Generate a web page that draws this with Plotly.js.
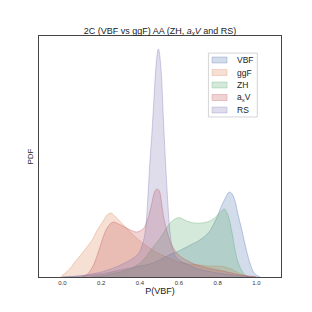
<!DOCTYPE html>
<html>
<head>
<meta charset="utf-8">
<script src="https://cdn.plot.ly/plotly-3.0.1.min.js"></script>
<style>html,body{margin:0;padding:0;background:#fff;}#chart{width:312px;height:312px;}</style>
</head>
<body>
<div id="chart"></div>
<script>
// Estimated density curves (arbitrary PDF units)
const vbfX = [0.0,0.1,0.2,0.3,0.4,0.45,0.5,0.55,0.6,0.65,0.7,0.73,0.76,0.78,0.80,0.82,0.84,0.86,0.875,0.89,0.905,0.925,0.94,0.955,0.97,0.985,1.0,1.02];
const vbfY = [0,1,3,7,11,13,17,22,26,31,36,40,46,53,61,71,79,85,83,76,63,47,34,22,12,5,2,0];

const ggfX = [-0.01,0.02,0.05,0.06,0.09,0.11,0.13,0.15,0.18,0.21,0.23,0.25,0.27,0.30,0.33,0.36,0.40,0.45,0.50,0.55,0.60,0.65,0.70,0.75,0.80,0.84,0.88,0.92,0.96,1.0];
const ggfY = [0,5,11,14,21,26,31,36,47,56,62,64,61,55,49,43,36,29,23,19,15,13,12,11,11,10,7,3,1,0];

const zhX = [0.15,0.2,0.25,0.3,0.35,0.40,0.43,0.46,0.50,0.53,0.56,0.59,0.61,0.64,0.68,0.72,0.76,0.79,0.815,0.835,0.855,0.875,0.89,0.905,0.92,0.94,0.96];
const zhY = [0,1,3,5,8,14,20,28,38,47,55,59,59,56,54,54,56,60,65,68,61,44,27,15,8,2,0];

const axvX = [0.10,0.13,0.16,0.19,0.21,0.23,0.26,0.29,0.32,0.35,0.38,0.40,0.42,0.44,0.46,0.47,0.48,0.49,0.50,0.52,0.54,0.56,0.59,0.62,0.68,0.75,0.85,0.92,1.0];
const axvY = [0,3,12,28,40,49,55,53,50,47,45,46,49,58,73,82,87,88,86,62,45,33,24,19,13,9,5,2,0];

const rsX = [0.0,0.05,0.1,0.15,0.2,0.25,0.3,0.35,0.38,0.40,0.42,0.43,0.44,0.45,0.46,0.47,0.48,0.49,0.495,0.50,0.51,0.52,0.53,0.54,0.55,0.56,0.58,0.6,0.65,0.7,0.8,0.9,1.0];
const rsY = [0,0.5,1.5,3,5,8,12,17,21,26,38,50,78,112,140,172,205,225,228,224,203,160,120,85,55,36,22,17,12,8,4,1.5,0];

const seriesNames = ['VBF','ggF','ZH','a<sub>x</sub>V','RS'];
const tickVals = [0.0,0.2,0.4,0.6,0.8,1.0];
const tickText = ['0.0','0.2','0.4','0.6','0.8','1.0'];

const colors = [[76,114,176],[221,132,82],[85,168,104],[196,78,82],[129,114,179]];
const xs = [vbfX, ggfX, zhX, axvX, rsX];
const ys = [vbfY, ggfY, zhY, axvY, rsY];

const fillOf = i => 'rgba(' + colors[i].join(',') + ',0.25)';
const edgeOf = i => 'rgba(' + colors[i].join(',') + ',0.35)';

const traces = xs.map((x, i) => ({
  x: x, y: ys[i], name: seriesNames[i], type: 'scatter', mode: 'lines',
  fill: 'tozeroy', fillcolor: fillOf(i),
  line: {color: edgeOf(i), width: 1, shape: 'spline', smoothing: 0.8},
  hoverinfo: 'skip', showlegend: false
}));

// Matplotlib-style legend box built from shapes + annotations (paper coords)
const shapes = [{
  type: 'rect', xref: 'paper', yref: 'paper', layer: 'above',
  x0: 0.700, x1: 0.902, y0: 0.664, y1: 0.929,
  fillcolor: 'rgba(255,255,255,0.8)', line: {color: '#d4d4d4', width: 1}
}];
const annotations = [];
const rowY = [0.9004, 0.8485, 0.7967, 0.7448, 0.6929];
seriesNames.forEach((nm, i) => {
  shapes.push({
    type: 'rect', xref: 'paper', yref: 'paper', layer: 'above',
    x0: 0.715, x1: 0.777, y0: rowY[i] - 0.0124, y1: rowY[i] + 0.0124,
    fillcolor: fillOf(i), line: {color: edgeOf(i), width: 0.8}
  });
  annotations.push({
    xref: 'paper', yref: 'paper', x: 0.808, y: rowY[i],
    xanchor: 'left', yanchor: 'middle', showarrow: false,
    text: nm, font: {size: 8.5, color: '#222'}
  });
});

const layout = {
  width: 312, height: 312,
  margin: {l: 38.5, r: 31.3, t: 36, b: 35},
  paper_bgcolor: '#ffffff', plot_bgcolor: '#ffffff',
  font: {family: 'Liberation Sans, Arial, sans-serif', color: '#222'},
  title: {
    text: '2C (VBF vs ggF) AA (ZH, <i>a</i><sub><i>x</i></sub><i>V</i> and RS)',
    font: {size: 9, color: '#222'},
    x: 0.5, xanchor: 'center', xref: 'paper',
    y: 0.9, yref: 'container', yanchor: 'middle'
  },
  xaxis: {
    range: [-0.121, 1.127],
    tickvals: tickVals, ticktext: tickText,
    tickfont: {size: 6, color: '#333'},
    ticks: '', showgrid: false, zeroline: false,
    showline: true, linecolor: '#444', linewidth: 1, mirror: true,
    title: {text: 'P(VBF)', font: {size: 9, color: '#222'}, standoff: 2},
    automargin: false
  },
  yaxis: {
    range: [0, 241],
    showticklabels: false, ticks: '', showgrid: false, zeroline: false,
    showline: true, linecolor: '#444', linewidth: 1, mirror: true,
    title: {text: 'PDF', font: {size: 8, color: '#222'}, standoff: 3},
    automargin: false
  },
  showlegend: false,
  shapes: shapes,
  annotations: annotations
};

Plotly.newPlot('chart', traces, layout, {displayModeBar: false, staticPlot: true});
</script>
</body>
</html>
